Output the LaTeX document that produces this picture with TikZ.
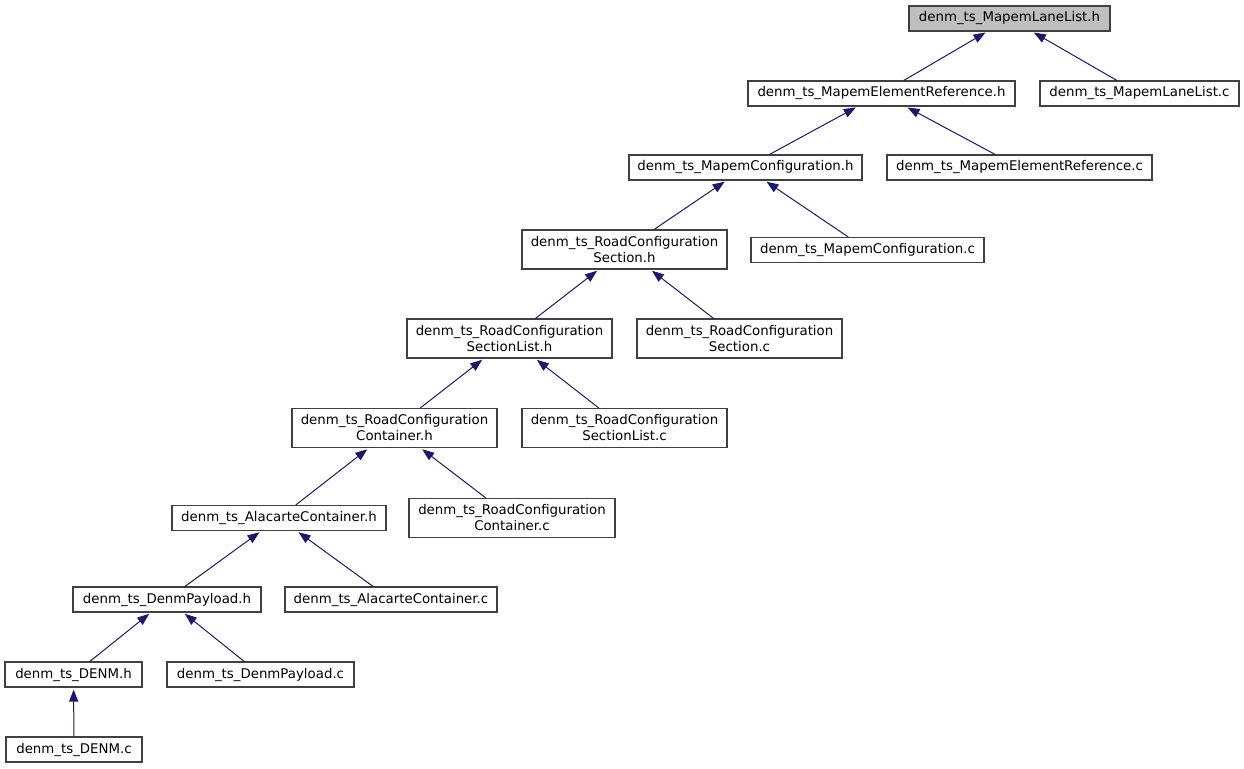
\documentclass[tikz,border=0pt]{standalone}
\usepackage{fontspec}
\setmainfont{DejaVu Sans}
\usetikzlibrary{arrows.meta}

\definecolor{edgeblue}{HTML}{191970}
\definecolor{boxline}{HTML}{404040}
\definecolor{curfill}{HTML}{BFBFBF}

\begin{document}
\begin{tikzpicture}[x=0.75pt, y=-0.75pt,
    file/.style={draw=boxline, line width=0.8pt, fill=white, inner sep=0pt,
                 align=center, font=\fontsize{10}{12}\selectfont,
                 minimum height=25*0.75pt, minimum width=#1*0.75pt},
    file2/.style={file=#1, minimum height=39*0.75pt},
    edge/.style={draw=edgeblue, line width=0.75pt, shorten >=1.5pt,
                 -{Triangle[length=9pt, width=6.75pt, fill=edgeblue]}}]
  \useasboundingbox (0,0) rectangle (1244,768);
  \node[file=201, fill=curfill] (lanelisth) at (1009.5,18.5) {denm\_ts\_MapemLaneList.h};
  \node[file=267] (elemrefh) at (881.5,93.5) {denm\_ts\_MapemElementReference.h};
  \node[file=199] (lanelistc) at (1139.5,93.5) {denm\_ts\_MapemLaneList.c};
  \node[file=233] (mapconfh) at (745.5,167.5) {denm\_ts\_MapemConfiguration.h};
  \node[file=265] (elemrefc) at (1019.5,167.5) {denm\_ts\_MapemElementReference.c};
  \node[file2=205] (secth) at (624.5,249.5) {denm\_ts\_RoadConfiguration\\Section.h};
  \node[file=233] (mapconfc) at (867.5,250) {denm\_ts\_MapemConfiguration.c};
  \node[file2=205] (seclisth) at (509.5,338.5) {denm\_ts\_RoadConfiguration\\SectionList.h};
  \node[file2=205] (sectc) at (739.5,338.5) {denm\_ts\_RoadConfiguration\\Section.c};
  \node[file2=205] (conth) at (394.5,428) {denm\_ts\_RoadConfiguration\\Container.h};
  \node[file2=205] (seclistc) at (624.5,428) {denm\_ts\_RoadConfiguration\\SectionList.c};
  \node[file=214] (alah) at (279,518) {denm\_ts\_AlacarteContainer.h};
  \node[file2=206] (contc) at (512,518) {denm\_ts\_RoadConfiguration\\Container.c};
  \node[file=188] (payh) at (167,599.5) {denm\_ts\_DenmPayload.h};
  \node[file=212] (alac) at (391,599.5) {denm\_ts\_AlacarteContainer.c};
  \node[file=137] (denmh) at (73.5,674.5) {denm\_ts\_DENM.h};
  \node[file=187] (payc) at (260.5,674.5) {denm\_ts\_DenmPayload.c};
  \node[file=136] (denmc) at (74,749.5) {denm\_ts\_DENM.c};

  \draw[edge] (elemrefh) -- (lanelisth);
  \draw[edge] (lanelistc) -- (lanelisth);
  \draw[edge] (mapconfh) -- (elemrefh);
  \draw[edge] (elemrefc) -- (elemrefh);
  \draw[edge] (secth) -- (mapconfh);
  \draw[edge] (mapconfc) -- (mapconfh);
  \draw[edge] (seclisth) -- (secth);
  \draw[edge] (sectc) -- (secth);
  \draw[edge] (conth) -- (seclisth);
  \draw[edge] (seclistc) -- (seclisth);
  \draw[edge] (alah) -- (conth);
  \draw[edge] (contc) -- (conth);
  \draw[edge] (payh) -- (alah);
  \draw[edge] (alac) -- (alah);
  \draw[edge] (denmh) -- (payh);
  \draw[edge] (payc) -- (payh);
  \draw[edge] (denmc) -- (denmh);
\end{tikzpicture}
\end{document}
